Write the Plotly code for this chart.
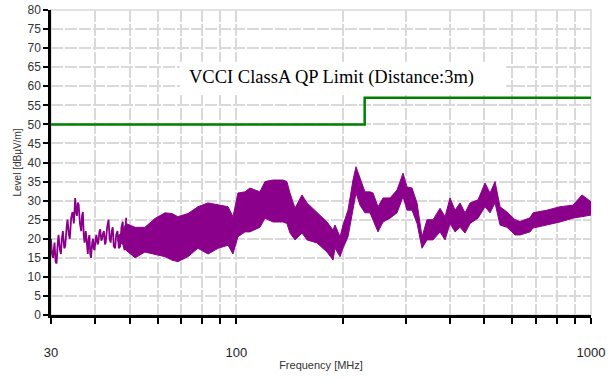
import math
import plotly.graph_objects as go

# Low-frequency part: spiky single trace (MHz, dBuV/m)
spiky_freq = [30, 30.2, 30.4, 30.7, 30.9, 31.1, 31.3, 31.5, 31.8, 32.0, 32.2, 32.4, 32.7,
              32.9, 33.2, 33.4, 33.7, 33.9, 34.2, 34.5, 34.8, 35.1, 35.3, 35.5, 35.7, 35.9,
              36.2, 36.5, 36.7, 36.9, 37.1, 37.3, 37.6, 37.9, 38.1, 38.3, 38.5, 38.7, 38.9,
              39.2, 39.4, 39.6, 39.8, 40.1, 40.3, 40.6, 40.8, 41.1, 41.3, 41.6, 41.8, 42.1,
              42.3, 42.6, 42.8, 43.2, 43.6, 43.9, 44.2, 44.5, 44.8, 45.1, 45.5, 45.8, 46.2,
              46.6, 47.0, 47.4, 47.8, 48.1, 48.4, 48.7, 48.9]
spiky_level = [20, 16, 15, 19, 14, 13.5, 18, 21, 17, 16, 20, 22, 17.5,
               18, 23, 25, 21, 20, 25.5, 27, 24, 30.7, 27, 26, 29.5, 29,
               24, 22, 26, 27, 21, 19, 22, 17, 16, 20, 21, 16, 15,
               19, 20, 17.5, 17, 20, 21, 18.5, 19, 22, 22.5, 19.5, 20, 21.5,
               22, 18.5, 19, 23, 25, 20, 19, 22, 23, 18, 17.5, 21, 22,
               17.5, 18, 23, 24.5, 18, 17, 23, 25.5]

# Dense part: envelope (upper / lower)
freq_mhz = [46.2, 47.8, 48.8, 51.8, 55.2, 58.9, 62.9, 65.8, 68.4, 73.0, 77.9, 83.2, 88.8,
            94.7, 97.8, 101.0, 105.7, 109.2, 116.5, 120.4, 126.8, 135.3, 138.8, 141.6,
            146.3, 153.1, 158.2, 168.8, 180.1, 187.3, 189.7, 196.0, 199.8, 206.4, 213.2,
            217.4, 223.1, 230.4, 238.1, 242.8, 250.8, 259.1, 271.2, 283.8, 295.0, 302.8,
            312.8, 323.1, 333.8, 344.8, 358.5, 375.2, 387.6, 400.4, 413.6, 427.2, 441.3,
            455.9, 480.1, 502.5, 519.1, 536.2, 553.9, 579.6, 610.5, 630.6, 673.0, 686.2,
            751.4, 817.8, 889.8, 943.3, 1000]
level_upper = [20.5, 22, 24, 23, 23, 25.3, 26.8, 26.6, 25.8, 26.6, 28.4, 29.4, 28.9,
               28.4, 25.8, 32, 32.3, 33.3, 32.3, 35, 35.4, 35.4, 35, 32,
               28, 31.5, 29.4, 26.8, 24.4, 22.3, 23.6, 20.5, 23.6, 27.5, 35.4,
               38.9, 35.9, 32.3, 32.3, 32, 28.4, 30.7, 30.7, 32.8, 37.2, 33.6,
               33.3, 29.4, 20.5, 25, 25, 28, 25.8, 30.7, 27.5, 29.4, 26.8,
               29.4, 30.2, 34.6, 32, 35, 28.4, 27, 25, 24.5, 25.5, 26.8,
               27.5, 28.4, 28.8, 31.5, 29.7]
level_lower = [19.5, 18.5, 17, 15, 16.5, 16, 15.3, 14.4, 14, 15.3, 17.5, 16, 17.5,
               18.3, 16, 20.5, 21.8, 21.8, 23, 25.4, 24.4, 24.4, 24, 21.5,
               19.7, 21.5, 19.7, 18.9, 16.5, 14.4, 17.5, 15.3, 17.5, 20.5, 28.4,
               32, 28.8, 26.8, 26.8, 25, 21.8, 24.4, 25.4, 26.8, 31, 27.5,
               27.5, 24, 17.5, 19.7, 19.7, 21.8, 19.7, 24, 21.8, 23, 21.5,
               24, 25.4, 28.4, 26.8, 29.4, 23.6, 23, 21, 21, 21.8, 22.8,
               23.6, 24.4, 25.4, 25.8, 26.2]

limit_freq = [30, 230, 230, 1000]
limit_level = [50, 50, 57, 57]

x_tickvals = [30, 40, 50, 60, 70, 80, 90, 100, 200, 300, 400, 500, 600, 700, 800, 900, 1000]
x_ticktext = ["30", "", "", "", "", "", "", "100", "", "", "", "", "", "", "", "", "1000"]

limit_label = "VCCI ClassA QP Limit (Distance:3m)"

purple = "#8B008B"
green = "#008000"

fig = go.Figure()
fig.add_trace(go.Scatter(x=spiky_freq, y=spiky_level, mode="lines",
                         line=dict(color=purple, width=1.8), showlegend=False))
fig.add_trace(go.Scatter(x=freq_mhz, y=level_lower, mode="lines",
                         line=dict(color=purple, width=1), showlegend=False, hoverinfo="skip"))
fig.add_trace(go.Scatter(x=freq_mhz, y=level_upper, mode="lines", fill="tonexty",
                         fillcolor=purple, line=dict(color=purple, width=1), showlegend=False))
fig.add_trace(go.Scatter(x=limit_freq, y=limit_level, mode="lines",
                         line=dict(color=green, width=2.5), showlegend=False))

# white label box
fig.add_shape(type="rect", x0=69.3, x1=576, y0=57.7, y1=66.4, xref="x", yref="y",
              fillcolor="white", line=dict(width=0), layer="between")
fig.add_annotation(x=math.log10(72.5), y=62.2, xref="x", yref="y", text=limit_label,
                   showarrow=False, xanchor="left", yanchor="middle",
                   font=dict(family="Liberation Serif, Times New Roman, serif", size=18.5,
                             color="black"))
# light frame top/right
fig.add_shape(type="rect", x0=0, x1=1, y0=0, y1=1, xref="paper", yref="paper",
              line=dict(color="#d9d9d9", width=1.5), layer="below")

fig.update_layout(
    width=614, height=380,
    margin=dict(l=51, r=23, t=10, b=65),
    paper_bgcolor="white", plot_bgcolor="white",
    font=dict(family="Liberation Sans, Arial, sans-serif", color="#333333"),
    xaxis=dict(type="log", range=[math.log10(30), 3.0], tickvals=x_tickvals,
               ticktext=x_ticktext, automargin=False,
               ticks="outside", ticklen=6, tickwidth=2, tickcolor="black",
               showline=True, linecolor="black", linewidth=2.5,
               showgrid=True, gridcolor="#d9d9d9", gridwidth=1.5, griddash="12px,2px",
               ticklabelstandoff=18, tickfont=dict(size=13, color="#222222"),
               title=dict(text="Frequency [MHz]", font=dict(size=11, color="#333333"),
                          standoff=2),
               zeroline=False),
    yaxis=dict(range=[0, 80], tickmode="array", tickvals=list(range(0, 81, 5)),
               automargin=False,
               ticks="outside", ticklen=5, tickwidth=2, tickcolor="black",
               showline=True, linecolor="black", linewidth=2.5,
               showgrid=True, gridcolor="#d9d9d9", gridwidth=1.5, griddash="12px,2px",
               tickfont=dict(size=12, color="#333333"),
               title=dict(text="Level [dBµV/m]", font=dict(size=10, color="#333333"),
                          standoff=4),
               zeroline=False),
)

fig.write_html("out.html", config={"displayModeBar": False},
               post_script="document.body.style.margin='0px';")
